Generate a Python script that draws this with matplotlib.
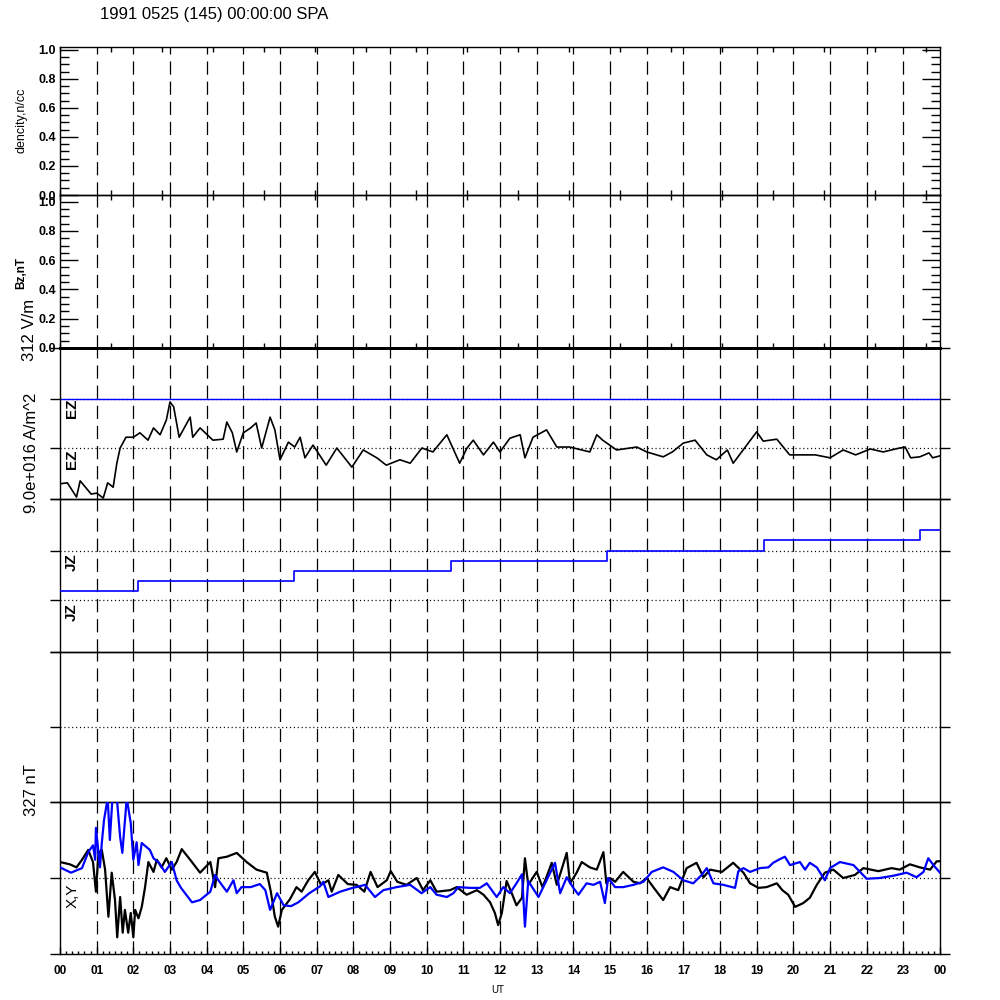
import numpy as np
import matplotlib
matplotlib.use("Agg")
import matplotlib.pyplot as plt
from matplotlib.ticker import MultipleLocator, FixedLocator, FormatStrFormatter

plt.rcParams['font.family'] = ['Liberation Sans', 'DejaVu Sans']
plt.rcParams['lines.scale_dashes'] = False

# ---------------- data ----------------
title = "1991 0525 (145) 00:00:00 SPA"
hour_labels = ["%02d" % (h % 24) for h in range(25)]

# EZ trace, hours UT -> value in units of the 312 V/m scale
ez_hours = [0.0, 0.2, 0.45, 0.55, 0.85, 1.0, 1.18, 1.3, 1.45, 1.55, 1.64, 1.8, 2.0, 2.18,
            2.4, 2.55, 2.73, 2.9, 3.0, 3.1, 3.25, 3.55, 3.62, 3.82, 4.17, 4.45, 4.55, 4.7,
            4.82, 5.0, 5.2, 5.35, 5.5, 5.73, 5.86, 6.0, 6.23, 6.4, 6.55, 6.68, 6.9, 7.26,
            7.55, 7.96, 8.27, 8.64, 8.9, 9.27, 9.55, 9.87, 10.17, 10.55, 10.9, 11.1, 11.27,
            11.55, 11.82, 12.0, 12.27, 12.55, 12.68, 12.9, 13.27, 13.55, 13.9, 14.45, 14.64,
            14.8, 15.18, 15.73, 16.0, 16.45, 16.7, 17.0, 17.32, 17.64, 17.9, 18.2, 18.36,
            18.73, 19.0, 19.18, 19.55, 19.9, 20.6, 21.0, 21.36, 21.7, 22.1, 22.45, 22.9,
            23.05, 23.2, 23.45, 23.7, 23.8, 24.0]
ez_vals = [-0.73, -0.71, -1.00, -0.67, -0.94, -0.92, -1.02, -0.71, -0.80, -0.31, 0.0, 0.22,
           0.22, 0.31, 0.16, 0.41, 0.27, 0.57, 0.94, 0.84, 0.22, 0.63, 0.22, 0.41, 0.16, 0.18,
           0.53, 0.31, -0.08, 0.31, 0.41, 0.51, 0.0, 0.63, 0.37, -0.24, 0.12, 0.02, 0.22,
           -0.20, 0.06, -0.35, 0.0, -0.39, -0.04, -0.20, -0.35, -0.24, -0.31, 0.0, -0.08,
           0.27, -0.31, 0.0, 0.16, -0.14, 0.12, -0.08, 0.20, 0.27, -0.20, 0.22, 0.37, 0.02,
           0.02, -0.08, 0.27, 0.16, -0.04, 0.02, -0.08, -0.18, -0.08, 0.10, 0.16, -0.14,
           -0.24, -0.04, -0.31, 0.06, 0.33, 0.14, 0.18, -0.14, -0.14, -0.20, -0.04, -0.14,
           -0.02, -0.08, 0.0, 0.02, -0.20, -0.18, -0.10, -0.20, -0.16]

# JZ (step trace), relative units
jz_hours = [0.0, 2.12, 6.38, 10.65, 14.93, 19.2, 23.45, 24.0]
jz_vals = [-0.80, -0.60, -0.40, -0.20, 0.0, 0.22, 0.42, 0.42]

# X component (black), units of 327 nT
bx_hours = [0.0, 0.27, 0.45, 0.6, 0.77, 0.9, 0.98, 1.05, 1.14, 1.23, 1.32, 1.41, 1.5, 1.56,
            1.64, 1.71, 1.77, 1.86, 1.93, 2.0, 2.05, 2.14, 2.23, 2.32, 2.41, 2.55, 2.64, 2.77,
            2.9, 3.05, 3.18, 3.32, 3.55, 3.82, 4.1, 4.23, 4.32, 4.55, 4.82, 5.09, 5.36, 5.64,
            5.75, 5.86, 5.95, 6.05, 6.27, 6.45, 6.59, 6.77, 6.95, 7.12, 7.32, 7.41, 7.59, 7.85,
            8.09, 8.3, 8.47, 8.66, 8.91, 9.02, 9.2, 9.45, 9.73, 9.9, 10.1, 10.27, 10.64, 10.82,
            11.09, 11.37, 11.55, 11.73, 11.86, 11.95, 12.05, 12.18, 12.32, 12.45, 12.6, 12.68,
            12.77, 13.0, 13.16, 13.32, 13.41, 13.55, 13.82, 13.91, 14.09, 14.23, 14.45, 14.64,
            14.82, 14.9, 15.0, 15.14, 15.36, 15.64, 15.82, 16.0, 16.18, 16.45, 16.64, 16.86,
            17.09, 17.36, 17.55, 17.73, 18.05, 18.36, 18.64, 18.82, 19.05, 19.27, 19.55, 19.7,
            19.86, 20.05, 20.27, 20.45, 20.64, 20.86, 21.09, 21.36, 21.68, 21.91, 22.32, 22.68,
            22.9, 23.18, 23.45, 23.73, 23.91, 24.0]
bx_vals = [0.21, 0.18, 0.14, 0.24, 0.37, 0.21, -0.18, 0.33, 0.37, 0.11, -0.51, 0.07, -0.29,
           -0.78, -0.25, -0.72, -0.42, -0.72, -0.46, -0.78, -0.42, -0.53, -0.38, -0.12, 0.21,
           0.08, 0.24, 0.14, 0.26, 0.11, 0.21, 0.38, 0.24, 0.07, 0.21, -0.12, 0.26, 0.28, 0.33,
           0.21, 0.11, 0.07, -0.18, -0.51, -0.64, -0.42, -0.28, -0.12, -0.18, -0.03, 0.08,
           -0.09, -0.03, -0.18, 0.04, -0.08, -0.09, -0.18, 0.08, -0.12, -0.03, 0.09, -0.05,
           -0.09, 0.0, -0.16, -0.03, -0.18, -0.16, -0.12, -0.22, -0.16, -0.22, -0.32, -0.46,
           -0.62, -0.46, -0.04, -0.20, -0.36, -0.26, 0.26, -0.09, 0.08, -0.12, 0.08, 0.20,
           -0.09, 0.33, -0.07, 0.07, 0.21, 0.14, 0.11, 0.34, -0.07, 0.0, -0.05, 0.08, -0.05,
           -0.07, 0.0, -0.12, -0.29, -0.12, -0.16, 0.13, 0.20, 0.01, 0.11, 0.08, 0.20, 0.07,
           -0.07, -0.13, -0.12, -0.07, -0.16, -0.22, -0.38, -0.33, -0.26, -0.09, 0.07, 0.11,
           0.0, 0.04, 0.13, 0.09, 0.13, 0.11, 0.18, 0.14, 0.11, 0.22, 0.22]

# Y component (blue), units of 327 nT
by_hours = [0.0, 0.3, 0.6, 0.77, 0.9, 0.96, 0.98, 1.09, 1.14, 1.2, 1.3, 1.36, 1.43, 1.55,
            1.64, 1.7, 1.75, 1.82, 1.93, 2.0, 2.09, 2.14, 2.23, 2.45, 2.55, 2.7, 2.86, 3.05,
            3.18, 3.3, 3.6, 3.82, 4.1, 4.23, 4.32, 4.55, 4.73, 4.82, 4.95, 5.2, 5.45, 5.6,
            5.73, 5.92, 6.1, 6.3, 6.5, 6.8, 7.09, 7.18, 7.32, 7.64, 7.91, 8.32, 8.59, 8.82,
            9.18, 9.55, 9.86, 10.1, 10.27, 10.55, 10.73, 10.86, 11.18, 11.45, 11.64, 11.91,
            12.09, 12.27, 12.45, 12.6, 12.68, 12.77, 13.05, 13.27, 13.5, 13.64, 13.82, 14.0,
            14.14, 14.36, 14.55, 14.73, 14.86, 14.95, 15.14, 15.36, 15.64, 15.91, 16.14, 16.45,
            16.73, 17.0, 17.27, 17.5, 17.64, 17.82, 18.09, 18.41, 18.5, 18.64, 18.82, 19.09,
            19.32, 19.45, 19.64, 19.77, 19.91, 20.18, 20.32, 20.45, 20.64, 20.86, 21.0, 21.27,
            21.64, 21.82, 22.0, 22.36, 22.73, 23.09, 23.36, 23.55, 23.68, 23.82, 24.0]
by_vals = [0.14, 0.07, 0.13, 0.34, 0.43, 0.24, 0.66, 0.14, 0.46, 0.76, 1.05, 0.50, 1.05,
           1.05, 0.54, 0.33, 0.63, 1.05, 0.72, 0.24, 0.47, 0.17, 0.46, 0.37, 0.26, 0.20, 0.08,
           0.21, -0.03, -0.13, -0.32, -0.29, -0.18, 0.04, -0.03, -0.18, -0.03, -0.20, -0.12,
           -0.12, -0.08, -0.16, -0.42, -0.20, -0.36, -0.37, -0.32, -0.20, -0.11, -0.05, -0.25,
           -0.18, -0.14, -0.09, -0.25, -0.16, -0.12, -0.09, -0.20, -0.12, -0.22, -0.25, -0.20,
           -0.12, -0.13, -0.13, -0.07, -0.25, -0.12, -0.20, -0.07, 0.05, -0.64, -0.04, -0.25,
           -0.03, 0.20, -0.20, 0.01, -0.13, -0.22, -0.07, -0.09, -0.05, -0.33, 0.0, -0.12,
           -0.12, -0.09, -0.05, 0.08, 0.14, 0.08, -0.03, -0.07, 0.04, 0.13, -0.07, -0.09,
           -0.13, 0.09, 0.13, 0.08, 0.13, 0.14, 0.20, 0.25, 0.28, 0.17, 0.21, 0.11, 0.20,
           0.14, -0.03, 0.13, 0.21, 0.17, 0.08, -0.01, 0.0, 0.03, 0.07, 0.01, 0.08, 0.26,
           0.17, 0.07]

# ---------------- layout ----------------
W, H = 1000, 1000
fig = plt.figure(figsize=(10, 10), dpi=100)
fig.patch.set_facecolor('white')


def add_ax(top, bottom):
    return fig.add_axes([60 / W, 1 - bottom / H, 880 / W, (bottom - top) / H])


def dashed_hours(ax):
    for h in range(1, 24):
        ax.axvline(h, color='black', lw=0.9, dashes=(9.5, 5.0), zorder=1)


def dotted(ax, y, color='black'):
    ax.axhline(y, color=color, lw=0.9, dashes=(0.8, 2.0), zorder=1)


ax1 = add_ax(47, 195)
ax2 = add_ax(195, 348)
ax_e = add_ax(348, 499)
ax_j = add_ax(499, 652)
ax_n = add_ax(652, 802)
ax_xy = add_ax(802, 954)

all_axes = [ax1, ax2, ax_e, ax_j, ax_n, ax_xy]
for ax in all_axes:
    ax.set_xlim(0, 24)
    ax.set_facecolor('none')
    for sp in ax.spines.values():
        sp.set_linewidth(1.0)
    dashed_hours(ax)

# upper two panels (empty density / Bz)
for ax, top_lim in ((ax1, 1.02), (ax2, 1.045)):
    ax.set_ylim(0, top_lim)
    ax.yaxis.set_major_locator(FixedLocator([0.0, 0.2, 0.4, 0.6, 0.8, 1.0]))
    ax.yaxis.set_minor_locator(FixedLocator([i * 0.05 for i in range(21)]))
    ax.yaxis.set_major_formatter(FormatStrFormatter('%.1f'))
    ax.tick_params(axis='y', which='major', direction='in', length=13, width=1,
                   left=True, right=True, labelsize=9, pad=3)
    ax.tick_params(axis='y', which='minor', direction='in', length=6.5, width=1,
                   left=True, right=True)
    ax.xaxis.set_major_locator(MultipleLocator(5000 / 3600))
    ax.tick_params(axis='x', which='major', direction='in', length=3.6, width=1,
                   top=True, bottom=True, labelbottom=False)
    for lab in ax.get_yticklabels():
        lab.set_fontweight('bold')
ax2.spines['bottom'].set_linewidth(2.0)
ax_e.spines['top'].set_linewidth(2.0)


# lower panels: outward reference ticks on both sides
def ref_ticks(ax, levels):
    ax.yaxis.set_major_locator(FixedLocator(levels))
    ax.tick_params(axis='y', which='major', direction='out', length=7.2, width=1,
                   left=True, right=True, labelleft=False)
    ax.tick_params(axis='y', which='minor', left=False, right=False)


# EZ panel
ax_e.set_ylim(-1.04, 2.04)
ref_ticks(ax_e, [-1.04, 0.0, 1.0, 2.04])
ax_e.axhline(1.0, color='#0000ff', lw=1.0, zorder=2)
dotted(ax_e, 1.0)
dotted(ax_e, 0.0)
ax_e.plot(ez_hours, ez_vals, color='black', lw=1.2, zorder=3)
ax_e.tick_params(axis='x', bottom=False, top=False, labelbottom=False)

# JZ panel
ax_j.set_ylim(-2.02, 1.04)
ref_ticks(ax_j, [-2.02, -0.98, 0.0, 1.04])
dotted(ax_j, 0.0)
dotted(ax_j, -0.98)
ax_j.plot(jz_hours, jz_vals, color='#0000ff', lw=1.2, drawstyle='steps-post', zorder=3)
ax_j.tick_params(axis='x', bottom=False, top=False, labelbottom=False)

# empty panel
ax_n.set_ylim(-1, 1)
ref_ticks(ax_n, [-1.0, 0.0, 1.0])
dotted(ax_n, 0.0)
ax_n.tick_params(axis='x', bottom=False, top=False, labelbottom=False)

# X,Y panel
ax_xy.set_ylim(-1, 1)
ref_ticks(ax_xy, [-1.0, 0.0, 1.0])
dotted(ax_xy, 0.0)
ax_xy.plot(bx_hours, bx_vals, color='black', lw=1.6, zorder=3)
ax_xy.plot(by_hours, by_vals, color='#0000ff', lw=1.6, zorder=4)
ax_xy.xaxis.set_major_locator(FixedLocator(list(range(25))))
ax_xy.xaxis.set_minor_locator(MultipleLocator(1 / 6))
ax_xy.set_xticklabels(hour_labels)
ax_xy.tick_params(axis='x', which='major', direction='in', length=5, width=1,
                  top=False, labelsize=8.5, pad=8)
ax_xy.tick_params(axis='x', which='minor', direction='in', length=2.5, width=1, top=False)
for lab in ax_xy.get_xticklabels():
    lab.set_fontweight('bold')


# ---------------- text ----------------
def ftext(x, y, s, **kw):
    fig.text(x / W, 1 - y / H, s, **kw)


ftext(100, 15, title, fontsize=12, ha='left', va='center')
ftext(22, 120, "dencity,n/cc", fontsize=9, rotation=90, ha='center', va='center')
ftext(21, 273, "Bz,nT", fontsize=8.5, fontweight='bold', rotation=90, ha='center', va='center')
ftext(29, 330, "312 V/m", fontsize=12, rotation=90, ha='center', va='center')
ftext(32, 453, "9.0e+016 A/m^2", fontsize=12, rotation=90, ha='center', va='center')
ftext(32, 790, "327 nT", fontsize=12, rotation=90, ha='center', va='center')
for yy in (408, 459):
    ftext(72, yy, "EZ", fontsize=11, fontweight='bold', rotation=90, ha='center', va='center')
for yy in (562, 612):
    ftext(72, yy, "JZ", fontsize=11, fontweight='bold', rotation=90, ha='center', va='center')
ftext(73, 896, "X,Y", fontsize=11, rotation=90, ha='center', va='center')
ftext(498, 990, "UT", fontsize=7, ha='center', va='center')

fig.savefig("out.png", dpi=100, facecolor='white')
